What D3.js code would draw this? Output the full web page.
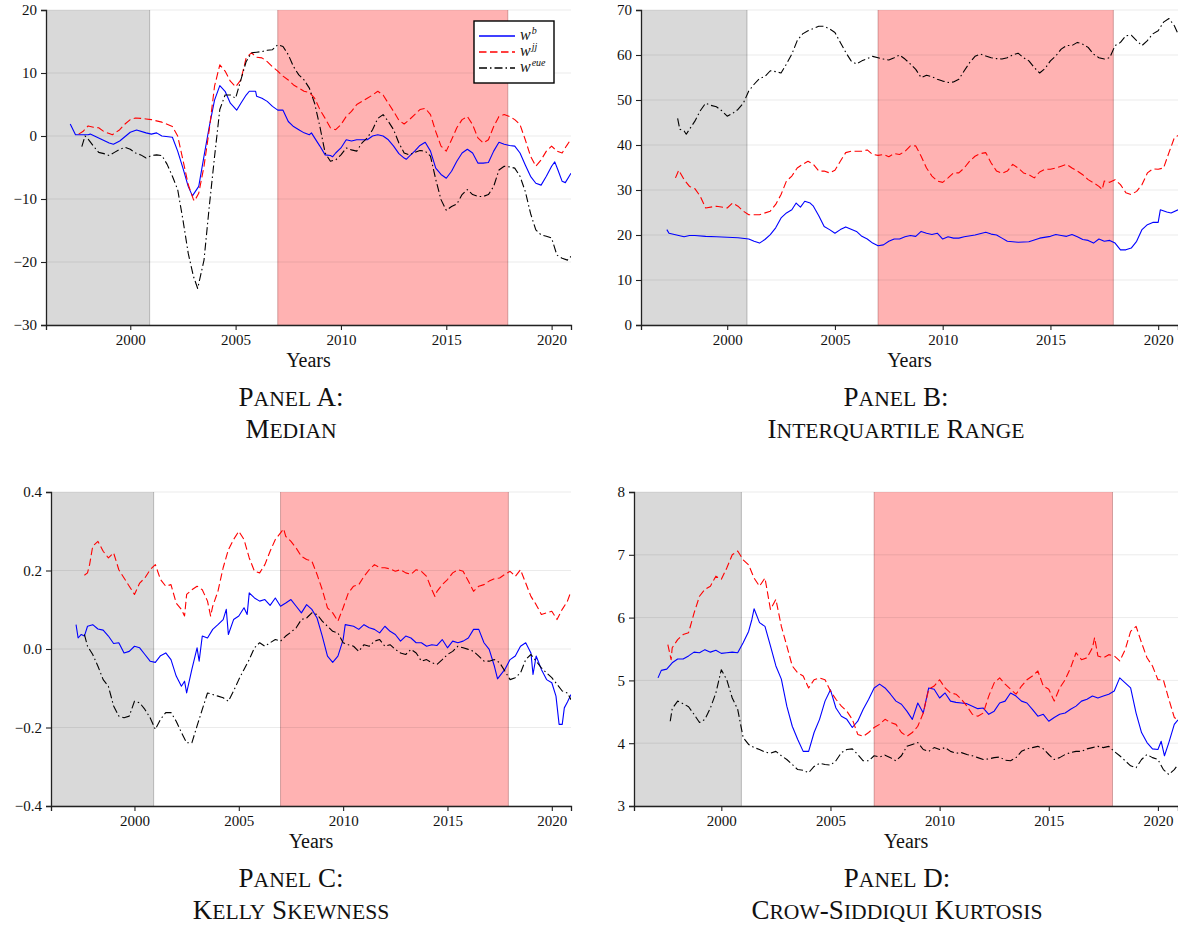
<!DOCTYPE html>
<html>
<head>
<meta charset="utf-8">
<script src="https://cdn.jsdelivr.net/npm/d3@7"></script>
<style>
  body { margin: 0; background: #fff; }
  svg { display: block; }
</style>
</head>
<body>
<svg id="fig" width="1178" height="927"></svg>
<script>
// ---- shared axis values ----
const xDomain = [1996, 2020.92];
const xTicks = [2000, 2005, 2010, 2015, 2020];
const grayBand = [1996, 2000.92];
const redBand = [2007, 2017.92];
const seriesKeys = ["b", "jj", "eue"];

// ---- Panel A: median ----
const medianTicks = [-30, -20, -10, 0, 10, 20];
const medianWb = [[1997.15,1.9],[1997.4,0.2],[1997.75,0.2],[1998,0.2],[1998.1,0.3],[1998.5,-0.3],[1999,-1.1],[1999.2,-1.3],[1999.5,-0.8],[2000,0.6],[2000.3,0.95],[2000.75,0.5],[2001,0.3],[2001.25,0.5],[2001.5,0],[2002,-0.2],[2002.25,-2.4],[2002.5,-5.1],[2002.75,-8],[2002.95,-9.5],[2003.25,-8],[2003.5,-3.2],[2003.75,1.5],[2004,5.7],[2004.25,8.0],[2004.5,7.1],[2004.75,5.2],[2005.05,4.1],[2005.25,5.2],[2005.5,6.5],[2005.65,7.1],[2005.95,7.1],[2006,6.3],[2006.25,6.0],[2006.5,5.5],[2006.75,4.7],[2007,4.1],[2007.25,4.1],[2007.5,2.3],[2007.75,1.5],[2008,1.0],[2008.25,0.5],[2008.5,0.2],[2008.6,0.5],[2008.75,-0.3],[2009,-1.6],[2009.25,-3.0],[2009.5,-3.1],[2009.6,-3.3],[2009.75,-2.7],[2010,-1.9],[2010.25,-0.6],[2010.5,-0.8],[2010.75,-0.6],[2011,-0.6],[2011.25,-0.6],[2011.5,0],[2011.75,0.2],[2012,0],[2012.25,-0.6],[2012.5,-1.6],[2012.75,-2.8],[2013,-3.5],[2013.1,-3.7],[2013.25,-3.2],[2013.5,-2.4],[2013.75,-1.5],[2014,-1.0],[2014.25,-2.4],[2014.5,-5.1],[2014.75,-6.1],[2015,-6.7],[2015.25,-5.6],[2015.5,-4.0],[2015.75,-2.7],[2016,-2.1],[2016.25,-2.7],[2016.5,-4.3],[2016.75,-4.3],[2017,-4.2],[2017.25,-2.4],[2017.5,-1.0],[2017.75,-1.3],[2018,-1.5],[2018.25,-1.6],[2018.5,-2.7],[2018.75,-4.6],[2019,-6.4],[2019.25,-7.5],[2019.5,-7.8],[2019.75,-6.4],[2020,-4.8],[2020.15,-4.1],[2020.3,-5.4],[2020.5,-7.2],[2020.65,-7.4],[2020.92,-5.9]];
const medianWjj = [[1997.55,0.3],[1997.75,0.7],[1998,1.6],[1998.25,1.4],[1998.5,1.3],[1998.75,0.7],[1999,0.4],[1999.15,0.2],[1999.5,1.0],[1999.75,1.9],[2000,2.6],[2000.25,2.85],[2000.5,2.8],[2000.75,2.7],[2001,2.6],[2001.5,2.2],[2002,1.5],[2002.25,0],[2002.5,-3.8],[2002.75,-7.7],[2003,-10.1],[2003.05,-10.3],[2003.25,-9.1],[2003.5,-4.8],[2003.75,1.0],[2004,7.9],[2004.25,11.3],[2004.5,10.3],[2004.75,8.7],[2005,7.8],[2005.25,8.9],[2005.5,12.4],[2005.75,13.2],[2006,12.5],[2006.25,12.4],[2006.5,11.8],[2006.75,11.0],[2007,10.3],[2007.25,9.5],[2007.5,8.9],[2007.75,8.1],[2008,7.6],[2008.25,7.1],[2008.5,6.9],[2008.75,6.0],[2009,4.2],[2009.25,2.8],[2009.5,1.3],[2009.75,1.0],[2010,1.8],[2010.25,3.1],[2010.5,3.9],[2010.75,5.0],[2011,5.5],[2011.25,6.0],[2011.5,6.5],[2011.75,7.1],[2012,6.5],[2012.25,5.2],[2012.5,3.9],[2012.75,2.5],[2013,1.9],[2013.25,2.6],[2013.5,3.4],[2013.75,4.2],[2014,4.4],[2014.25,3.4],[2014.5,0.7],[2014.75,-1.6],[2015,-2.4],[2015.25,-0.6],[2015.5,1.3],[2015.75,2.6],[2016,3.1],[2016.25,1.8],[2016.5,-0.3],[2016.75,-1.1],[2017,-0.6],[2017.25,1.5],[2017.5,3.1],[2017.75,3.4],[2018,3.1],[2018.25,2.6],[2018.5,1.8],[2018.75,-0.6],[2019,-3.2],[2019.25,-4.8],[2019.5,-3.8],[2019.75,-2.4],[2020,-1.6],[2020.25,-2.4],[2020.5,-2.7],[2020.7,-1.6],[2020.92,-0.5]];
const medianWeue = [[1997.7,-1.7],[1997.85,0],[1998,-0.5],[1998.25,-1.6],[1998.5,-2.6],[1998.75,-2.8],[1999,-3.1],[1999.25,-2.6],[1999.5,-2.1],[1999.75,-1.8],[2000,-2.1],[2000.25,-2.7],[2000.5,-3.0],[2000.75,-3.5],[2001,-3.1],[2001.25,-3.0],[2001.5,-3.1],[2001.75,-4.5],[2002,-6.4],[2002.25,-8.5],[2002.5,-13.3],[2002.75,-18.6],[2003,-22.3],[2003.2,-24.2],[2003.5,-19.7],[2003.75,-11.2],[2004,-3.3],[2004.25,4.2],[2004.5,6.5],[2004.75,6.5],[2005,6.0],[2005.25,8.9],[2005.5,11.8],[2005.75,13.2],[2006,13.3],[2006.25,13.4],[2006.5,13.6],[2006.75,13.7],[2007,14.5],[2007.25,14.2],[2007.5,12.9],[2007.75,11.0],[2008,9.7],[2008.25,8.9],[2008.5,7.6],[2008.75,5.2],[2009,1.5],[2009.25,-2.7],[2009.5,-4.0],[2009.75,-3.8],[2010,-3.0],[2010.25,-1.9],[2010.5,-2.2],[2010.75,-2.4],[2011,-1.1],[2011.25,-0.3],[2011.5,1.0],[2011.75,2.8],[2012,3.4],[2012.25,2.3],[2012.5,1.0],[2012.75,-1.1],[2013,-2.7],[2013.25,-3.0],[2013.5,-2.6],[2013.75,-2.3],[2014,-2.4],[2014.25,-3.2],[2014.5,-6.9],[2014.75,-10.1],[2015,-11.8],[2015.25,-11.2],[2015.5,-10.8],[2015.75,-9.3],[2016,-8.5],[2016.25,-9.3],[2016.5,-9.6],[2016.75,-9.6],[2017,-9.3],[2017.25,-8.0],[2017.5,-5.4],[2017.75,-4.8],[2018,-4.9],[2018.25,-5.1],[2018.5,-6.4],[2018.75,-8.8],[2019,-12.3],[2019.25,-14.9],[2019.5,-15.7],[2019.75,-15.9],[2020,-16.2],[2020.25,-18.9],[2020.5,-19.4],[2020.75,-19.7],[2020.92,-19.1]];

// ---- Panel B: interquartile range ----
const iqrTicks = [0, 10, 20, 30, 40, 50, 60, 70];
const iqrWb = [[1997.2,21.2],[1997.3,20.4],[1997.75,19.9],[1998,19.6],[1998.25,19.9],[1998.5,19.9],[1999,19.7],[1999.5,19.6],[2000,19.5],[2000.5,19.4],[2001,19.1],[2001.25,18.6],[2001.5,18.2],[2001.75,19.0],[2002,20.1],[2002.25,21.6],[2002.5,23.8],[2002.75,24.9],[2003,25.6],[2003.2,27.1],[2003.4,26.2],[2003.6,27.5],[2003.85,27.1],[2004,26.4],[2004.25,24.3],[2004.5,21.9],[2004.75,21.2],[2005,20.4],[2005.25,21.2],[2005.5,21.8],[2005.75,21.3],[2006,20.8],[2006.25,19.7],[2006.5,19.1],[2006.75,18.2],[2007,17.6],[2007.25,17.8],[2007.5,18.6],[2007.75,19.1],[2008,19.1],[2008.25,19.6],[2008.5,19.9],[2008.75,19.7],[2009,20.8],[2009.25,20.4],[2009.5,20.1],[2009.75,20.4],[2010,19.1],[2010.25,19.6],[2010.5,19.3],[2010.75,19.3],[2011,19.6],[2011.5,20.0],[2012,20.6],[2012.25,20.2],[2012.5,20.0],[2012.75,19.3],[2013,18.6],[2013.5,18.4],[2014,18.5],[2014.5,19.3],[2015,19.7],[2015.25,20.1],[2015.5,19.9],[2015.75,19.7],[2016,20.1],[2016.25,19.6],[2016.5,19.0],[2016.75,18.8],[2017,18.2],[2017.25,19.1],[2017.5,18.6],[2017.75,18.8],[2018,18.2],[2018.25,16.7],[2018.5,16.7],[2018.75,17.1],[2019,18.6],[2019.25,21.2],[2019.5,22.3],[2019.75,22.8],[2020,22.8],[2020.1,25.6],[2020.4,25.1],[2020.6,24.9],[2020.92,25.6]];
const iqrWjj = [[1997.6,32.7],[1997.75,34.4],[1998,32.3],[1998.25,30.8],[1998.5,30.3],[1998.75,28.6],[1999,26.0],[1999.5,26.4],[2000,26.0],[2000.25,27.1],[2000.5,26.4],[2000.75,25.3],[2001,24.5],[2001.5,24.5],[2002,25.3],[2002.25,26.8],[2002.5,29.0],[2002.75,32.0],[2003,33.1],[2003.25,34.9],[2003.5,35.7],[2003.75,36.4],[2004,35.7],[2004.25,34.2],[2004.5,34.2],[2004.75,33.8],[2005,34.4],[2005.25,36.4],[2005.5,38.3],[2005.75,38.6],[2006,38.6],[2006.25,38.6],[2006.5,38.9],[2006.75,37.9],[2007,37.7],[2007.25,37.9],[2007.5,37.4],[2007.75,38.1],[2008,37.9],[2008.25,38.6],[2008.5,39.8],[2008.75,39.8],[2009,37.5],[2009.25,34.9],[2009.5,33.1],[2009.75,32.0],[2010,31.7],[2010.25,32.7],[2010.5,33.8],[2010.75,33.8],[2011,34.9],[2011.25,36.4],[2011.5,37.5],[2011.75,38.1],[2012,38.3],[2012.25,36.0],[2012.5,34.2],[2012.75,33.7],[2013,34.2],[2013.25,35.7],[2013.5,34.9],[2013.75,33.8],[2014,33.4],[2014.25,32.7],[2014.5,34.0],[2014.75,34.6],[2015,34.6],[2015.25,34.9],[2015.5,35.3],[2015.75,35.7],[2016,34.9],[2016.25,34.2],[2016.5,33.4],[2016.75,32.3],[2017,31.6],[2017.25,30.8],[2017.4,30.1],[2017.5,32.0],[2017.75,31.7],[2018,32.3],[2018.25,31.2],[2018.5,29.4],[2018.75,29.0],[2019,29.7],[2019.25,31.2],[2019.5,33.8],[2019.75,34.7],[2020,34.6],[2020.25,34.9],[2020.5,38.3],[2020.75,41.6],[2020.92,42.1]];
const iqrWeue = [[1997.7,45.9],[1997.8,43.5],[1998,43.1],[1998.1,42.4],[1998.25,43.5],[1998.5,45.3],[1998.75,47.6],[1999,49.3],[1999.25,48.8],[1999.5,48.5],[1999.75,47.6],[2000,46.4],[2000.25,47.0],[2000.5,47.9],[2000.75,49.3],[2001,52.0],[2001.25,53.5],[2001.5,54.8],[2001.75,55.2],[2002,56.5],[2002.25,56.3],[2002.5,56.0],[2002.75,58.0],[2003,60.2],[2003.25,63.2],[2003.5,64.7],[2003.75,65.4],[2004,65.9],[2004.25,66.4],[2004.5,66.4],[2004.75,65.8],[2005,65.0],[2005.25,62.8],[2005.5,60.6],[2005.75,58.7],[2006,58.0],[2006.25,58.7],[2006.5,59.2],[2006.75,59.7],[2007,59.4],[2007.25,59.1],[2007.5,58.9],[2007.75,59.4],[2008,60.0],[2008.25,59.1],[2008.5,58.0],[2008.75,56.8],[2009,55.0],[2009.25,55.5],[2009.5,55.2],[2009.75,54.6],[2010,54.2],[2010.25,53.9],[2010.5,54.0],[2010.75,54.6],[2011,56.5],[2011.25,58.3],[2011.5,59.7],[2011.75,60.2],[2012,59.8],[2012.25,59.4],[2012.5,59.2],[2012.75,59.1],[2013,59.4],[2013.25,60.0],[2013.5,60.4],[2013.75,59.4],[2014,58.7],[2014.25,57.2],[2014.5,56.0],[2014.75,57.0],[2015,58.7],[2015.25,59.8],[2015.5,61.3],[2015.75,62.1],[2016,62.1],[2016.25,62.8],[2016.5,62.4],[2016.75,61.7],[2017,60.2],[2017.25,59.4],[2017.5,59.1],[2017.75,59.4],[2018,62.1],[2018.25,62.8],[2018.5,64.3],[2018.75,64.4],[2019,63.2],[2019.25,62.1],[2019.5,63.2],[2019.75,64.7],[2020,65.4],[2020.25,67.3],[2020.5,68.1],[2020.75,66.5],[2020.92,64.7]];

// ---- Panel C: Kelly skewness ----
const skewTicks = [-0.4, -0.2, 0.0, 0.2, 0.4];
const skewWb = [[1997.2,0.062],[1997.3,0.028],[1997.45,0.037],[1997.6,0.033],[1997.75,0.058],[1998,0.062],[1998.25,0.051],[1998.5,0.048],[1998.75,0.033],[1999,0.014],[1999.25,0.016],[1999.5,-0.010],[1999.75,-0.006],[2000,0.007],[2000.25,0.003],[2000.5,-0.014],[2000.75,-0.031],[2001,-0.034],[2001.25,-0.017],[2001.5,-0.010],[2001.75,-0.027],[2002,-0.069],[2002.25,-0.095],[2002.4,-0.082],[2002.5,-0.112],[2002.75,-0.052],[2003,0.003],[2003.1,-0.031],[2003.25,0.033],[2003.5,0.028],[2003.75,0.050],[2004,0.062],[2004.25,0.075],[2004.4,0.101],[2004.5,0.037],[2004.75,0.075],[2005,0.084],[2005.25,0.105],[2005.4,0.088],[2005.5,0.143],[2005.75,0.130],[2006,0.122],[2006.25,0.126],[2006.5,0.111],[2006.75,0.130],[2007,0.109],[2007.25,0.117],[2007.5,0.126],[2007.75,0.109],[2008,0.092],[2008.25,0.113],[2008.5,0.101],[2008.75,0.079],[2009,0.033],[2009.25,-0.018],[2009.5,-0.034],[2009.75,-0.018],[2010,0.024],[2010.1,0.062],[2010.5,0.058],[2010.75,0.050],[2011,0.062],[2011.25,0.054],[2011.5,0.050],[2011.75,0.041],[2012,0.058],[2012.25,0.045],[2012.5,0.037],[2012.75,0.020],[2013,0.033],[2013.25,0.028],[2013.5,0.016],[2013.75,0.016],[2014,0.007],[2014.25,0.011],[2014.5,0.009],[2014.75,0.024],[2015,0.003],[2015.25,0.020],[2015.5,0.016],[2015.75,0.020],[2016,0.028],[2016.25,0.050],[2016.5,0.050],[2016.75,0.016],[2017,-0.001],[2017.25,-0.044],[2017.4,-0.076],[2017.5,-0.069],[2017.75,-0.052],[2018,-0.027],[2018.25,-0.018],[2018.5,0.007],[2018.75,0.016],[2019,-0.010],[2019.1,-0.065],[2019.25,-0.018],[2019.5,-0.052],[2019.75,-0.078],[2020,-0.086],[2020.2,-0.120],[2020.35,-0.192],[2020.5,-0.192],[2020.6,-0.150],[2020.75,-0.135],[2020.92,-0.116]];
const skewWjj = [[1997.6,0.188],[1997.75,0.194],[1997.85,0.215],[1998,0.262],[1998.25,0.274],[1998.5,0.249],[1998.75,0.232],[1999,0.245],[1999.25,0.202],[1999.5,0.181],[1999.75,0.160],[2000,0.139],[2000.25,0.168],[2000.5,0.181],[2000.75,0.202],[2001,0.215],[2001.25,0.177],[2001.5,0.160],[2001.75,0.164],[2002,0.117],[2002.25,0.101],[2002.4,0.084],[2002.5,0.139],[2002.75,0.151],[2003,0.160],[2003.25,0.151],[2003.5,0.122],[2003.65,0.084],[2003.75,0.109],[2004,0.147],[2004.25,0.207],[2004.5,0.253],[2004.75,0.279],[2005,0.300],[2005.25,0.279],[2005.5,0.232],[2005.75,0.198],[2006,0.194],[2006.25,0.215],[2006.5,0.249],[2006.75,0.279],[2007,0.296],[2007.15,0.306],[2007.25,0.287],[2007.5,0.274],[2007.75,0.257],[2008,0.236],[2008.25,0.228],[2008.5,0.224],[2008.75,0.190],[2009,0.151],[2009.25,0.105],[2009.5,0.092],[2009.75,0.071],[2010,0.105],[2010.25,0.143],[2010.5,0.160],[2010.75,0.164],[2011,0.185],[2011.25,0.202],[2011.5,0.215],[2011.75,0.207],[2012,0.207],[2012.25,0.204],[2012.5,0.198],[2012.75,0.202],[2013,0.194],[2013.25,0.190],[2013.5,0.202],[2013.75,0.198],[2014,0.185],[2014.25,0.151],[2014.4,0.134],[2014.5,0.147],[2014.75,0.164],[2015,0.177],[2015.25,0.194],[2015.5,0.202],[2015.75,0.198],[2016,0.173],[2016.25,0.147],[2016.5,0.160],[2016.75,0.164],[2017,0.173],[2017.25,0.179],[2017.5,0.181],[2017.75,0.190],[2018,0.198],[2018.25,0.185],[2018.5,0.202],[2018.75,0.168],[2019,0.134],[2019.25,0.113],[2019.5,0.088],[2019.75,0.092],[2020,0.096],[2020.25,0.075],[2020.5,0.101],[2020.75,0.122],[2020.92,0.147]];
const skewWeue = [[1997.6,0.037],[1997.75,0.007],[1998,-0.014],[1998.25,-0.044],[1998.5,-0.078],[1998.75,-0.095],[1999,-0.145],[1999.25,-0.171],[1999.5,-0.175],[1999.75,-0.171],[2000,-0.133],[2000.25,-0.137],[2000.5,-0.154],[2000.75,-0.175],[2001,-0.205],[2001.25,-0.179],[2001.5,-0.162],[2001.75,-0.162],[2002,-0.184],[2002.25,-0.213],[2002.5,-0.239],[2002.75,-0.239],[2003,-0.196],[2003.25,-0.154],[2003.5,-0.112],[2003.75,-0.116],[2004,-0.120],[2004.25,-0.124],[2004.5,-0.133],[2004.75,-0.107],[2005,-0.078],[2005.25,-0.052],[2005.5,-0.027],[2005.75,0.003],[2006,0.016],[2006.25,0.007],[2006.5,0.016],[2006.75,0.024],[2007,0.020],[2007.25,0.033],[2007.5,0.043],[2007.75,0.054],[2008,0.075],[2008.25,0.079],[2008.5,0.092],[2008.75,0.088],[2009,0.071],[2009.25,0.058],[2009.5,0.045],[2009.75,0.041],[2010,0.016],[2010.25,0.011],[2010.5,0.007],[2010.75,-0.006],[2011,0.011],[2011.25,0.007],[2011.5,0.020],[2011.75,0.024],[2012,0.007],[2012.25,0.011],[2012.5,-0.001],[2012.75,-0.010],[2013,-0.014],[2013.25,-0.001],[2013.5,-0.010],[2013.75,-0.031],[2014,-0.027],[2014.25,-0.035],[2014.5,-0.039],[2014.75,-0.027],[2015,-0.014],[2015.25,-0.006],[2015.5,0.007],[2015.75,0.003],[2016,-0.001],[2016.25,-0.006],[2016.5,-0.018],[2016.75,-0.031],[2017,-0.031],[2017.25,-0.027],[2017.5,-0.035],[2017.75,-0.056],[2018,-0.078],[2018.25,-0.073],[2018.5,-0.061],[2018.75,-0.027],[2019,-0.014],[2019.25,-0.031],[2019.5,-0.048],[2019.75,-0.061],[2020,-0.073],[2020.25,-0.090],[2020.5,-0.107],[2020.75,-0.112],[2020.92,-0.129]];

// ---- Panel D: Crow-Siddiqui kurtosis ----
const kurtTicks = [3, 4, 5, 6, 7, 8];
const kurtWb = [[1997.1,5.04],[1997.25,5.16],[1997.5,5.18],[1997.75,5.28],[1998,5.34],[1998.25,5.34],[1998.5,5.39],[1998.75,5.45],[1999,5.44],[1999.25,5.49],[1999.5,5.45],[1999.75,5.48],[2000,5.43],[2000.25,5.44],[2000.5,5.45],[2000.75,5.44],[2001,5.60],[2001.25,5.78],[2001.4,5.97],[2001.5,6.14],[2001.75,5.92],[2002,5.86],[2002.25,5.55],[2002.5,5.23],[2002.75,5.02],[2003,4.59],[2003.25,4.27],[2003.5,4.06],[2003.75,3.87],[2004,3.87],[2004.25,4.17],[2004.5,4.38],[2004.75,4.67],[2005,4.85],[2005.25,4.56],[2005.5,4.43],[2005.75,4.38],[2006,4.25],[2006.25,4.35],[2006.5,4.54],[2006.75,4.70],[2007,4.88],[2007.25,4.94],[2007.5,4.88],[2007.75,4.78],[2008,4.67],[2008.25,4.62],[2008.5,4.51],[2008.75,4.38],[2009,4.64],[2009.25,4.48],[2009.5,4.88],[2009.75,4.86],[2010,4.72],[2010.25,4.80],[2010.5,4.67],[2010.75,4.65],[2011,4.64],[2011.25,4.63],[2011.5,4.59],[2011.75,4.55],[2012,4.56],[2012.25,4.46],[2012.5,4.51],[2012.75,4.64],[2013,4.67],[2013.25,4.80],[2013.5,4.75],[2013.75,4.67],[2014,4.64],[2014.25,4.54],[2014.5,4.43],[2014.75,4.46],[2015,4.35],[2015.25,4.41],[2015.5,4.46],[2015.75,4.48],[2016,4.54],[2016.25,4.59],[2016.5,4.67],[2016.75,4.70],[2017,4.75],[2017.25,4.72],[2017.5,4.75],[2017.75,4.78],[2018,4.83],[2018.25,5.04],[2018.5,4.96],[2018.75,4.88],[2019,4.48],[2019.25,4.17],[2019.5,4.01],[2019.75,3.91],[2020,3.90],[2020.15,4.03],[2020.3,3.80],[2020.5,4.01],[2020.75,4.30],[2020.92,4.37]];
const kurtWjj = [[1997.55,5.57],[1997.7,5.33],[1997.75,5.52],[1998,5.65],[1998.25,5.73],[1998.5,5.76],[1998.75,6.07],[1999,6.34],[1999.25,6.45],[1999.5,6.50],[1999.75,6.66],[2000,6.61],[2000.25,6.79],[2000.5,7.00],[2000.75,7.06],[2001,6.92],[2001.25,6.84],[2001.5,6.63],[2001.75,6.50],[2002,6.63],[2002.25,6.13],[2002.5,6.29],[2002.75,5.86],[2003,5.55],[2003.25,5.23],[2003.5,5.12],[2003.75,5.07],[2004,4.88],[2004.25,5.01],[2004.5,5.04],[2004.75,5.01],[2005,4.83],[2005.25,4.70],[2005.5,4.59],[2005.75,4.51],[2006,4.38],[2006.25,4.14],[2006.5,4.11],[2006.75,4.17],[2007,4.25],[2007.25,4.30],[2007.5,4.38],[2007.75,4.33],[2008,4.30],[2008.25,4.17],[2008.5,4.11],[2008.75,4.17],[2009,4.27],[2009.25,4.48],[2009.5,4.86],[2009.75,4.91],[2010,5.01],[2010.25,4.88],[2010.5,4.80],[2010.75,4.78],[2011,4.70],[2011.25,4.59],[2011.5,4.46],[2011.75,4.43],[2012,4.48],[2012.25,4.75],[2012.5,4.96],[2012.75,5.04],[2013,4.94],[2013.25,4.86],[2013.5,4.78],[2013.75,4.91],[2014,5.01],[2014.25,5.07],[2014.5,5.15],[2014.75,4.91],[2015,4.86],[2015.25,4.67],[2015.5,4.88],[2015.75,5.01],[2016,5.20],[2016.25,5.44],[2016.5,5.33],[2016.75,5.36],[2017,5.52],[2017.1,5.68],[2017.25,5.39],[2017.5,5.36],[2017.75,5.41],[2018,5.39],[2018.25,5.31],[2018.5,5.49],[2018.75,5.78],[2019,5.86],[2019.25,5.60],[2019.5,5.36],[2019.75,5.23],[2020,5.01],[2020.25,5.01],[2020.5,4.70],[2020.75,4.41],[2020.92,4.37]];
const kurtWeue = [[1997.66,4.35],[1997.75,4.55],[1998,4.67],[1998.25,4.63],[1998.5,4.58],[1998.75,4.46],[1999,4.33],[1999.25,4.38],[1999.5,4.56],[1999.75,4.80],[2000,5.17],[2000.25,5.01],[2000.5,4.72],[2000.75,4.54],[2001,4.09],[2001.25,3.98],[2001.5,3.93],[2001.75,3.90],[2002,3.86],[2002.25,3.84],[2002.5,3.87],[2002.75,3.80],[2003,3.74],[2003.25,3.66],[2003.5,3.58],[2003.75,3.57],[2004,3.53],[2004.25,3.63],[2004.5,3.68],[2004.75,3.66],[2005,3.65],[2005.25,3.72],[2005.5,3.85],[2005.75,3.90],[2006,3.91],[2006.25,3.82],[2006.5,3.72],[2006.75,3.72],[2007,3.80],[2007.25,3.78],[2007.5,3.81],[2007.75,3.77],[2008,3.72],[2008.25,3.80],[2008.5,3.95],[2008.75,3.98],[2009,4.01],[2009.25,3.90],[2009.5,3.87],[2009.75,3.93],[2010,3.90],[2010.25,3.93],[2010.5,3.87],[2010.75,3.84],[2011,3.85],[2011.25,3.82],[2011.5,3.80],[2011.75,3.77],[2012,3.74],[2012.25,3.75],[2012.5,3.77],[2012.75,3.78],[2013,3.73],[2013.25,3.72],[2013.5,3.77],[2013.75,3.87],[2014,3.91],[2014.25,3.93],[2014.5,3.95],[2014.75,3.91],[2015,3.82],[2015.25,3.74],[2015.5,3.77],[2015.75,3.82],[2016,3.85],[2016.25,3.87],[2016.5,3.87],[2016.75,3.91],[2017,3.93],[2017.25,3.95],[2017.5,3.93],[2017.75,3.95],[2018,3.87],[2018.25,3.80],[2018.5,3.72],[2018.75,3.64],[2019,3.61],[2019.25,3.74],[2019.5,3.82],[2019.75,3.77],[2020,3.74],[2020.25,3.58],[2020.5,3.50],[2020.75,3.58],[2020.92,3.66]];

const panelTitles = [
  ["Panel A:", "Median"],
  ["Panel B:", "Interquartile Range"],
  ["Panel C:", "Kelly Skewness"],
  ["Panel D:", "Crow-Siddiqui Kurtosis"]
];

// ---- drawing ----
const svg = d3.select("#fig");
const serif = "'Liberation Serif', 'DejaVu Serif', serif";

const lineStyles = {
  b:   { color: "#0000ff", dash: null },
  jj:  { color: "#ff0000", dash: "7.5,3.5" },
  eue: { color: "#000000", dash: "8,3,1.5,3" }
};

const panels = [
  { box: { l: 46,  r: 571,  t: 10,  b: 325 }, domain: [-30, 20], ticks: medianTicks, fmt: d => d3.format("d")(d),
    series: [medianWb, medianWjj, medianWeue], titleX: 291, legend: true },
  { box: { l: 641, r: 1178, t: 10,  b: 325 }, domain: [0, 70], ticks: iqrTicks, fmt: d => d3.format("d")(d),
    series: [iqrWb, iqrWjj, iqrWeue], titleX: 896 },
  { box: { l: 51,  r: 571,  t: 492, b: 806 }, domain: [-0.4, 0.4], ticks: skewTicks, fmt: d => d3.format(".1f")(d),
    series: [skewWb, skewWjj, skewWeue], titleX: 291 },
  { box: { l: 634, r: 1178, t: 492, b: 806 }, domain: [3, 8], ticks: kurtTicks, fmt: d => d3.format("d")(d),
    series: [kurtWb, kurtWjj, kurtWeue], titleX: 897 }
];

// Small caps: capitals at full size, lowercase letters as reduced capitals.
function smallCaps(sel, str, size) {
  for (const ch of str) {
    const lower = ch !== ch.toUpperCase();
    sel.append("tspan")
      .attr("font-size", lower ? size * 0.8 : size)
      .text(lower ? ch.toUpperCase() : ch);
  }
}

panels.forEach((p, i) => {
  const { l, r, t, b } = p.box;
  const x = d3.scaleLinear().domain(xDomain).range([l, r]);
  const y = d3.scaleLinear().domain(p.domain).range([b, t]);
  const g = svg.append("g");

  const clipId = "clip" + i;
  g.append("clipPath").attr("id", clipId)
    .append("rect").attr("x", l).attr("y", t).attr("width", r - l).attr("height", b - t);

  // shaded periods
  g.append("rect")
    .attr("x", x(grayBand[0])).attr("y", t)
    .attr("width", x(grayBand[1]) - x(grayBand[0])).attr("height", b - t)
    .attr("fill", "rgba(0,0,0,0.15)");
  g.append("line")
    .attr("x1", x(grayBand[1])).attr("x2", x(grayBand[1])).attr("y1", t).attr("y2", b)
    .attr("stroke", "rgba(0,0,0,0.22)").attr("stroke-width", 1);
  g.append("rect")
    .attr("x", x(redBand[0])).attr("y", t)
    .attr("width", x(redBand[1]) - x(redBand[0])).attr("height", b - t)
    .attr("fill", "rgba(255,0,0,0.3)");
  [redBand[0], redBand[1]].forEach(v => {
    g.append("line")
      .attr("x1", x(v)).attr("x2", x(v)).attr("y1", t).attr("y2", b)
      .attr("stroke", "rgba(110,20,20,0.3)").attr("stroke-width", 1);
  });

  // horizontal grid
  g.append("g").selectAll("line").data(p.ticks).join("line")
    .attr("x1", l).attr("x2", r)
    .attr("y1", d => y(d)).attr("y2", d => y(d))
    .attr("stroke", "rgba(0,0,0,0.08)").attr("stroke-width", 1);

  // series
  const line = d3.line().x(d => x(d[0])).y(d => y(d[1]));
  const plot = g.append("g").attr("clip-path", `url(#${clipId})`);
  p.series.forEach((s, k) => {
    const st = lineStyles[seriesKeys[k]];
    plot.append("path").datum(s)
      .attr("d", line)
      .attr("fill", "none")
      .attr("stroke", st.color)
      .attr("stroke-width", 1.1)
      .attr("stroke-dasharray", st.dash)
      .attr("stroke-linejoin", "round");
  });

  // axes
  const xAxis = g.append("g").attr("transform", `translate(0,${b})`)
    .call(d3.axisBottom(x).tickValues(xTicks).tickFormat(d3.format("d")).tickSizeOuter(0).tickSize(5).tickPadding(4));
  const yAxis = g.append("g").attr("transform", `translate(${l},0)`)
    .call(d3.axisLeft(y).tickValues(p.ticks).tickFormat(d => p.fmt(d).replace("-", "\u2212")).tickSizeOuter(0).tickSize(5).tickPadding(4));
  [xAxis, yAxis].forEach(ax => {
    ax.select(".domain").attr("stroke", "#222").attr("stroke-width", 1.3);
    ax.selectAll(".tick line").attr("stroke", "#222").attr("stroke-width", 1.1);
    ax.selectAll(".tick text").attr("font-family", serif).attr("font-size", 15).attr("fill", "#111");
  });

  // axis title
  g.append("text")
    .attr("x", (l + r) / 2).attr("y", b + 42)
    .attr("text-anchor", "middle")
    .attr("font-family", serif).attr("font-size", 20).attr("fill", "#111")
    .text("Years");

  // panel caption
  const [line1, line2] = panelTitles[i];
  smallCaps(g.append("text").attr("x", p.titleX).attr("y", b + 81).attr("text-anchor", "middle")
    .attr("font-family", serif).attr("fill", "#111"), line1, 27);
  smallCaps(g.append("text").attr("x", p.titleX).attr("y", b + 113).attr("text-anchor", "middle")
    .attr("font-family", serif).attr("fill", "#111"), line2, 27);

  // legend
  if (p.legend) {
    const lg = g.append("g").attr("transform", "translate(474,21)");
    lg.append("rect").attr("width", 80).attr("height", 62)
      .attr("fill", "#fff").attr("stroke", "#000").attr("stroke-width", 1.4);
    seriesKeys.forEach((key, k) => {
      const st = lineStyles[key];
      const yy = 15 + k * 16;
      lg.append("line").attr("x1", 5).attr("x2", 41).attr("y1", yy).attr("y2", yy)
        .attr("stroke", st.color).attr("stroke-width", 1.4).attr("stroke-dasharray", st.dash);
      const tx = lg.append("text").attr("x", 46).attr("y", yy + 4)
        .attr("font-family", serif).attr("font-style", "italic").attr("fill", "#111");
      tx.append("tspan").attr("font-size", 16).text("w");
      tx.append("tspan").attr("font-size", 10).attr("dy", -6).attr("dx", 1).text(key);
    });
  }
});
</script>
</body>
</html>
